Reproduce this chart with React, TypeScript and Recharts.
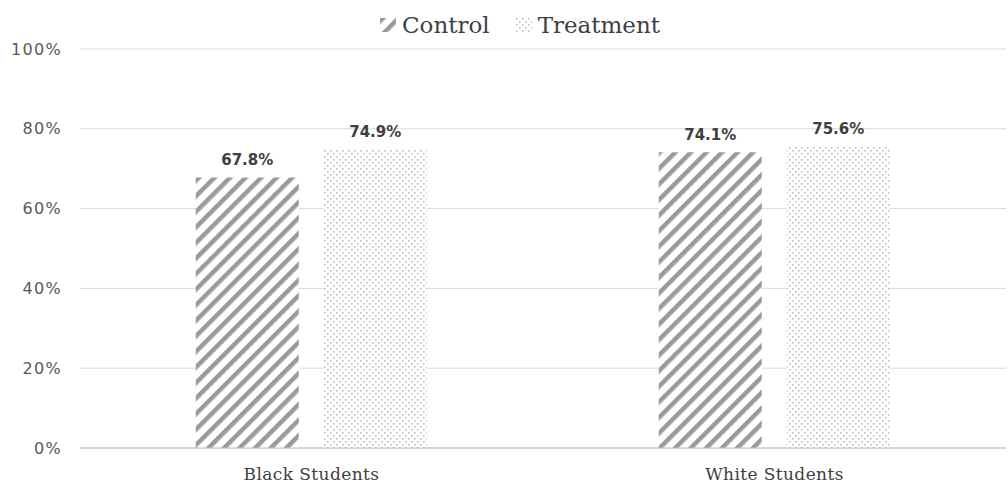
import { BarChart, Bar, XAxis, YAxis, CartesianGrid, LabelList } from 'recharts';

const groups = ['Black Students', 'White Students'];
const controlRates = [67.8, 74.1];
const treatmentRates = [74.9, 75.6];
const yTicks = [0, 20, 40, 60, 80, 100];

const data = groups.map((group, i) => ({
  group,
  control: controlRates[i],
  treatment: treatmentRates[i],
}));

const pct = (v: number) => `${v.toFixed(1)}%`;

const valueLabelStyle = { fontFamily: 'DejaVu Sans', fontSize: 15, fontWeight: 'bold', fill: '#404040' };

function Patterns() {
  return (
    <defs>
      <pattern id="stripes" width="11" height="11" patternUnits="userSpaceOnUse" patternTransform="rotate(45)">
        <rect width="11" height="11" fill="#ffffff" />
        <rect x="0" y="0" width="4.5" height="11" fill="#9a9a9a" />
      </pattern>
      <pattern id="dots" width="6" height="6" patternUnits="userSpaceOnUse">
        <rect width="6" height="6" fill="#ffffff" />
        <rect x="0" y="0" width="1.6" height="1.6" fill="#bdbdbd" />
        <rect x="3" y="3" width="1.6" height="1.6" fill="#bdbdbd" />
      </pattern>
    </defs>
  );
}

// legend sits over the plot, so it doesn't push the grid down
function ChartLegend() {
  const item = (fill: string, label: string) => (
    <span style={{ display: 'inline-flex', alignItems: 'center', margin: '0 13px' }}>
      <svg width="16" height="14" style={{ marginRight: 6 }}>
        <rect width="16" height="14" fill={fill} />
      </svg>
      <span>{label}</span>
    </span>
  );
  return (
    <div
      style={{
        position: 'absolute',
        top: 8,
        left: 0,
        width: 1040,
        textAlign: 'center',
        fontFamily: 'DejaVu Serif',
        fontSize: 23,
        color: '#404040',
        lineHeight: '32px',
      }}
    >
      {item('url(#stripes)', 'Control')}
      {item('url(#dots)', 'Treatment')}
    </div>
  );
}

export default function App() {
  return (
    <div style={{ position: 'relative', width: 1008, height: 487, background: '#fff', overflow: 'hidden' }}>
      <style>{'body{margin:0}'}</style>
      <BarChart
        width={1008}
        height={487}
        data={data}
        margin={{ top: 49, right: 2, left: 0, bottom: 6 }}
        barCategoryGap="25%"
        barGap={25}
      >
        <Patterns />
        <CartesianGrid vertical={false} stroke="#d9d9d9" />
        <XAxis
          dataKey="group"
          axisLine={{ stroke: '#bfbfbf' }}
          tickLine={false}
          height={33}
          tickMargin={14}
          tick={{ fontFamily: 'DejaVu Serif', fontSize: 17, fill: '#404040', letterSpacing: 0.4 }}
        />
        <YAxis
          domain={[0, 100]}
          ticks={yTicks}
          tickFormatter={(v: number) => `${v}%`}
          axisLine={false}
          tickLine={false}
          tickSize={0}
          tickMargin={18}
          width={80}
          tick={{ fontFamily: 'DejaVu Sans', fontSize: 16, fill: '#595959', letterSpacing: 1.3 }}
        />
        <Bar dataKey="control" name="Control" fill="url(#stripes)" isAnimationActive={false}>
          <LabelList dataKey="control" position="top" offset={12} formatter={(v: number) => pct(v)} style={valueLabelStyle} />
        </Bar>
        <Bar dataKey="treatment" name="Treatment" fill="url(#dots)" isAnimationActive={false}>
          <LabelList dataKey="treatment" position="top" offset={12} formatter={(v: number) => pct(v)} style={valueLabelStyle} />
        </Bar>
      </BarChart>
      <ChartLegend />
    </div>
  );
}
